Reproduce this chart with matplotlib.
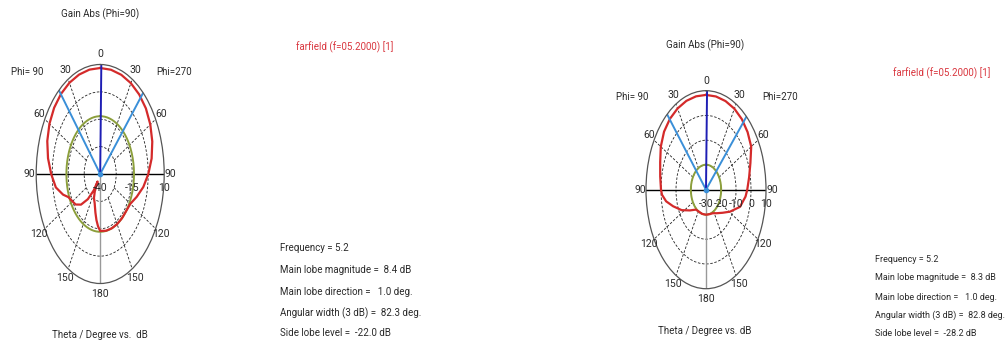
import numpy as np
import matplotlib.pyplot as plt

W, H = 1007, 347

plt.rcParams['font.family'] = ['Roboto', 'DejaVu Sans']
plt.rcParams['font.size'] = 7

RED = '#d42a2a'
GREEN = '#8c9f3c'
DARK_BLUE = '#1e1eb4'
LIGHT_BLUE = '#3a8fd8'
TEXT = '#2a2a2a'

angle_ticks = [0, 30, 60, 90, 120, 150, 180, 210, 240, 270, 300, 330]
angle_labels = ['0', '30', '60', '90', '120', '150', '180', '150', '120', '90', '60', '30']

# --- first run: Phi=270 cut (right half) and Phi=90 cut (left half) ---
theta_a270 = [0, 10, 20, 30, 40, 50, 60, 70, 80, 90, 100, 110, 120, 130, 140, 150, 160, 170, 180]
gain_a270 = [8.4, 8.35, 8.2, 7.9, 7.4, 6.6, 5.2, 3.3, 0.8, -2.4, -5.8, -9.6, -12.8, -13.6, -13.6,
             -13.6, -13.6, -13.7, -14.0]
theta_a90 = [0, 10, 20, 30, 40, 50, 60, 70, 80, 90, 100, 108, 113, 120, 126, 133, 140, 146, 149,
             152, 156, 162, 168, 172, 176, 180]
gain_a90 = [8.4, 8.4, 8.3, 8.1, 7.7, 7.0, 5.8, 4.0, 1.4, -1.7, -4.8, -9.5, -13.0, -15.0, -16.3,
            -19.5, -25.0, -31.0, -36.0, -31.0, -28.0, -26.0, -22.0, -18.8, -16.0, -14.0]

# --- second run ---
theta_b270 = [0, 10, 20, 30, 40, 50, 60, 70, 80, 90, 96, 107, 119, 130, 143, 155, 165, 180]
gain_b270 = [8.3, 8.25, 8.1, 7.8, 7.2, 6.2, 4.8, 1.5, -0.8, -2.5, -3.5, -6.3, -11.7, -15.5,
             -18.1, -19.5, -19.8, -19.9]
theta_b90 = [0, 10, 20, 30, 40, 50, 60, 70, 80, 90, 94, 100, 107, 117, 128, 140, 150, 165, 180]
gain_b90 = [8.3, 8.3, 8.2, 7.9, 7.4, 6.5, 4.8, 2.5, 1.0, 0.0, -0.6, -3.0, -7.1, -11.8, -16.4,
            -19.5, -19.9, -19.9, -19.9]

freq = [5.2, 5.2]
main_mag = [8.4, 8.3]
main_dir = [1.0, 1.0]
width_3db = [82.3, 82.8]
side_lobe = [-22.0, -28.2]

r_range_a = (-40, 10)
r_range_b = (-30, 10)
ring_levels_a = [-27.5, -15, -2.5]
ring_levels_b = [-20, -10, 0]
r_labels_a = [-40, -15, 10]
r_labels_b = [-30, -20, -10, 0, 10]


def px_rect(cx, cy, a, b):
    return [(cx - a) / W, (H - cy - b) / H, 2 * a / W, 2 * b / H]


def draw_pattern(fig, rect, th270, g270, th90, g90, r_range, rings, r_labels, k):
    ax = fig.add_axes(rect, projection='polar')
    ax.set_aspect('auto')
    ax.set_theta_zero_location('N')
    ax.set_theta_direction(-1)
    r0, r1 = r_range
    ax.set_ylim(r0, r1)
    ax.set_facecolor('none')
    ax.grid(False)
    ax.set_xticks(np.deg2rad(angle_ticks))
    ax.set_xticklabels([])
    ax.set_yticks(rings)
    ax.set_yticklabels([])
    ax.yaxis.grid(True, linestyle=(0, (3, 2)), color='#222222', linewidth=0.6)
    ax.tick_params(length=0)
    ax.spines['polar'].set_color('#555555')
    ax.spines['polar'].set_linewidth(0.9)

    # dashed spokes from the first ring outwards
    for t in angle_ticks:
        if t % 90:
            ax.plot([np.deg2rad(t)] * 2, [rings[0], r1], color='#222222',
                    lw=0.6, ls=(0, (3, 2)))
    # axes through the centre
    ax.plot([np.deg2rad(90)] * 2, [r0, r1], color='black', lw=1.0)
    ax.plot([np.deg2rad(270)] * 2, [r0, r1], color='black', lw=1.0)
    ax.plot([np.pi] * 2, [r0, r1], color='#999999', lw=1.0)

    # side lobe level circle
    sll = main_mag[k] + side_lobe[k]
    circ = np.linspace(0, 2 * np.pi, 361)
    ax.plot(circ, np.full_like(circ, sll), color=GREEN, lw=1.4)

    # pattern: Phi=270 side clockwise, Phi=90 side mirrored
    ang = np.concatenate([th270, 360 - np.array(th90)[::-1]])
    gain = np.concatenate([g270, np.array(g90)[::-1]])
    ax.plot(np.deg2rad(ang), gain, color=RED, lw=1.6)

    # main lobe direction and 3 dB width
    half = width_3db[k] / 2
    for t, c in [(main_dir[k] - half, LIGHT_BLUE), (main_dir[k] + half, LIGHT_BLUE),
                 (main_dir[k], DARK_BLUE)]:
        ax.plot([np.deg2rad(t)] * 2, [r0, r1], color=c, lw=1.4)
    ax.plot([0], [r0], marker='o', ms=3, color=LIGHT_BLUE)

    # angle labels just outside the rim
    r_txt = r1 + 0.1 * (r1 - r0)
    for t, lab in zip(angle_ticks, angle_labels):
        ax.text(np.deg2rad(t), r_txt, lab, ha='center', va='center', color=TEXT,
                fontsize=7.5)

    # dB labels along the right horizontal axis
    for lv in r_labels:
        ax.annotate(str(lv), (np.deg2rad(90), lv), xytext=(0, -10),
                    textcoords='offset points', ha='center', va='center', color=TEXT,
                    fontsize=7.5)
    return ax


def ftext(x, y, s, **kw):
    kw.setdefault('color', TEXT)
    kw.setdefault('va', 'center')
    fig.text(x / W, 1 - y / H, s, **kw)


def stats_block(x, ys, k, size):
    lines = [
        f'Frequency = {freq[k]}',
        f'Main lobe magnitude =  {main_mag[k]:.1f} dB',
        f'Main lobe direction =   {main_dir[k]:.1f} deg.',
        f'Angular width (3 dB) =  {width_3db[k]:.1f} deg.',
        f'Side lobe level =  {side_lobe[k]:.1f} dB',
    ]
    for y, s in zip(ys, lines):
        ftext(x, y, s, ha='left', fontsize=size)


fig = plt.figure(figsize=(W / 100, H / 100), dpi=100)
fig.patch.set_facecolor('white')

draw_pattern(fig, px_rect(100.2, 174, 64, 109.5), theta_a270, gain_a270, theta_a90, gain_a90,
             r_range_a, ring_levels_a, r_labels_a, 0)
draw_pattern(fig, px_rect(706, 189.7, 60, 99), theta_b270, gain_b270, theta_b90, gain_b90,
             r_range_b, ring_levels_b, r_labels_b, 1)

# left panel texts
ftext(100, 14, 'Gain Abs (Phi=90)', ha='center')
ftext(27, 72, 'Phi= 90', ha='center')
ftext(174, 72, 'Phi=270', ha='center')
ftext(345, 47, 'farfield (f=05.2000) [1]', ha='center', color='#d9363e')
stats_block(280, [248, 270, 292, 313, 333], 0, 7)
ftext(100, 335, 'Theta / Degree vs.  dB', ha='center')

# right panel texts
ftext(705, 45, 'Gain Abs (Phi=90)', ha='center')
ftext(632, 97, 'Phi= 90', ha='center')
ftext(780, 97, 'Phi=270', ha='center')
ftext(942, 73, 'farfield (f=05.2000) [1]', ha='center', color='#d9363e')
stats_block(875, [260, 278, 297, 315, 334], 1, 6.5)
ftext(705, 331, 'Theta / Degree vs. dB', ha='center')

fig.savefig('out.png', dpi=100)
